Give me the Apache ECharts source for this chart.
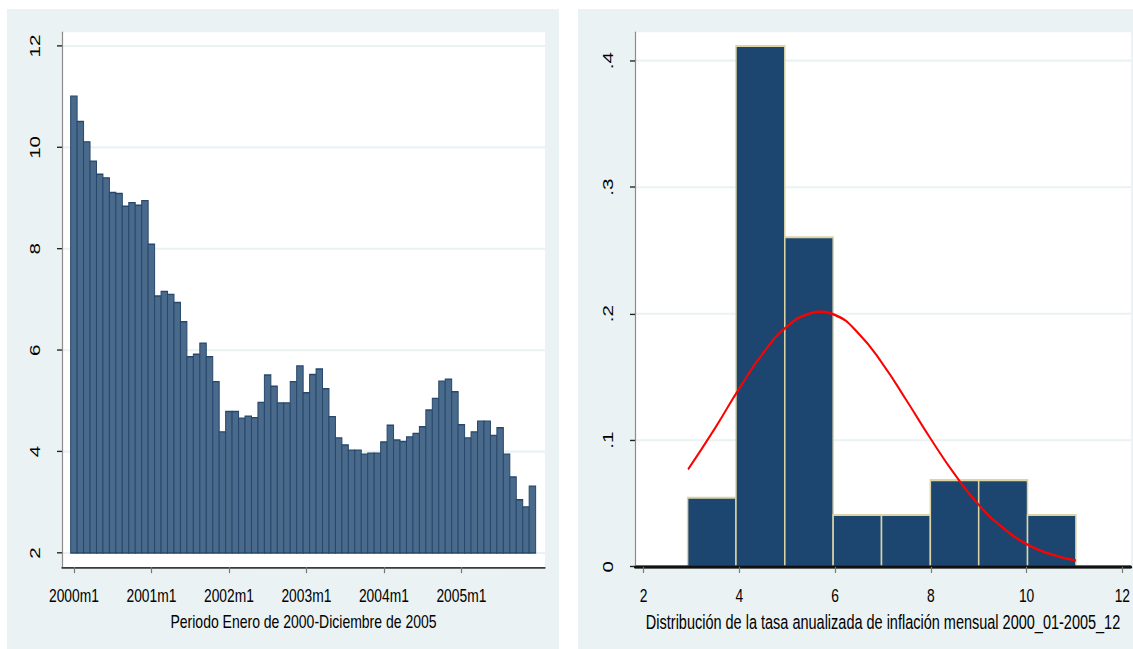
<!DOCTYPE html>
<html>
<head>
<meta charset="utf-8">
<script src="https://cdn.jsdelivr.net/npm/echarts@6/dist/echarts.min.js"></script>
<style>
  html, body { margin: 0; padding: 0; background: #ffffff; }
  #stage { position: relative; width: 1133px; height: 649px; overflow: hidden; background: #ffffff; }
  .panel { position: absolute; background: #eaf2f3; }
  #chart { position: absolute; left: 0; top: 0; width: 1133px; transform-origin: 0 0; }
</style>
</head>
<body>
<div id="stage">
  <div class="panel" style="left:7px;top:9px;width:552px;height:640px"></div>
  <div class="panel" style="left:578px;top:9px;width:555px;height:640px"></div>
  <div id="chart"></div>
</div>
<script>
// Monthly annualised inflation, January 2000 - December 2005
const months = [];
for (let y = 2000; y <= 2005; y++) for (let m = 1; m <= 12; m++) months.push(y + 'm' + m);

const inflation = [
  11.01, 10.51, 10.11, 9.73, 9.47, 9.40, 9.11, 9.09, 8.84, 8.91, 8.86, 8.95,
  8.09, 7.07, 7.16, 7.10, 6.94, 6.56, 5.87, 5.92, 6.14, 5.87, 5.38, 4.39,
  4.79, 4.79, 4.66, 4.70, 4.67, 4.97, 5.51, 5.29, 4.96, 4.96, 5.38, 5.69,
  5.16, 5.52, 5.63, 5.24, 4.69, 4.27, 4.13, 4.03, 4.03, 3.95, 3.97, 3.97,
  4.19, 4.52, 4.23, 4.20, 4.29, 4.36, 4.49, 4.82, 5.05, 5.39, 5.43, 5.18,
  4.53, 4.27, 4.39, 4.60, 4.60, 4.32, 4.47, 3.95, 3.50, 3.05, 2.91, 3.32
];
const leftYTicks = [2, 4, 6, 8, 10, 12];
const leftXTicks = months.map((m, i) => (m.endsWith('m1') ? i : -1)).filter(i => i >= 0);

// Histogram of the same rates (density scale) and the normal density curve
const binEdges = [2.92, 3.93, 4.95, 5.96, 6.97, 7.99, 9.00, 10.02, 11.03];
const binDensity = [0.0545, 0.4115, 0.2605, 0.041, 0.041, 0.0685, 0.0685, 0.041];
const curveX = [2.93, 3.5, 4.0, 4.5, 5.0, 5.5, 5.66, 6.0, 6.5, 7.0, 7.5, 8.0, 8.5, 9.0, 9.5, 10.0, 10.5, 11.03];
const curveY = [0.077, 0.110, 0.141, 0.169, 0.190, 0.2005, 0.2015, 0.199, 0.184, 0.160, 0.131, 0.101, 0.073, 0.049, 0.031, 0.018, 0.010, 0.005];
const rightXTicks = [2, 4, 6, 8, 10, 12];
const rightYTicks = [0, 0.1, 0.2, 0.3, 0.4];

// The graph is drawn in a short box and stretched vertically
const K = 1.37;
const H = 649 / K;
const sy = v => v / K;
const el = document.getElementById('chart');
el.style.height = H + 'px';
el.style.transform = 'scaleY(' + K + ')';

const FONT = "'Liberation Sans', Arial, sans-serif";
const BAR_BASE = 2;
const L = { xMin: -1.84, xMax: 72.95, yMin: 1.724, yMax: 12.27 };
const R = { xMin: 1.821, xMax: 12.183, yMin: 0, yMax: 0.4224 };

// Horizontal rule across a grid at the given values
function ruleSeries(idx, xMin, values, z, color, width) {
  return {
    type: 'custom', xAxisIndex: idx, yAxisIndex: idx, z: z, silent: true,
    data: values.map(v => [xMin, v]),
    encode: { x: 0, y: 1 },
    renderItem: (params, api) => {
      const cs = params.coordSys;
      const y = api.coord([api.value(0), api.value(1)])[1];
      return { type: 'line', shape: { x1: cs.x, y1: y, x2: cs.x + cs.width, y2: y },
               style: { stroke: color, lineWidth: width } };
    }
  };
}

const axisLabelY = (ticks, fmt) => ({
  customValues: ticks, rotate: 90, margin: 20, color: '#000',
  fontFamily: FONT, fontSize: 15, formatter: fmt
});
const axisLabelX = (ticks, fmt) => ({
  customValues: ticks, margin: 14, color: '#000',
  fontFamily: FONT, fontSize: 13.8, formatter: fmt
});

const option = {
  animation: false,
  backgroundColor: 'transparent',
  grid: [
    { left: 62, top: sy(32.3), width: 483, height: sy(567 - 32.3),
      show: true, backgroundColor: '#ffffff', borderWidth: 0 },
    { left: 635, top: sy(32.3), width: 498, height: sy(566.8 - 32.3),
      show: true, backgroundColor: '#ffffff', borderWidth: 0 }
  ],
  xAxis: [
    { type: 'value', gridIndex: 0, min: L.xMin, max: L.xMax, z: 10,
      axisLine: { show: true, onZero: false, lineStyle: { color: '#3a3a3a', width: 1.3 } },
      axisTick: { show: true, customValues: leftXTicks, length: 4.5, lineStyle: { color: '#777', width: 1.2 } },
      axisLabel: axisLabelX(leftXTicks, v => months[v]),
      splitLine: { show: false },
      name: 'Periodo Enero de 2000-Diciembre de 2005', nameLocation: 'middle', nameGap: 30,
      nameTextStyle: { color: '#000', fontFamily: FONT, fontSize: 14 } },
    { type: 'value', gridIndex: 1, min: R.xMin, max: R.xMax, z: 10,
      axisLine: { show: true, onZero: false, lineStyle: { color: '#111', width: 2 } },
      axisTick: { show: true, customValues: rightXTicks, length: 4.5, lineStyle: { color: '#777', width: 1.2 } },
      axisLabel: axisLabelX(rightXTicks, v => String(v)),
      splitLine: { show: false },
      name: 'Distribución de la tasa anualizada de inflación mensual 2000_01-2005_12',
      nameLocation: 'middle', nameGap: 29,
      nameTextStyle: { color: '#000', fontFamily: FONT, fontSize: 14.5 } }
  ],
  yAxis: [
    { type: 'value', gridIndex: 0, min: L.yMin, max: L.yMax, z: 10,
      axisLine: { show: true, onZero: false, lineStyle: { color: '#8c8c8c', width: 1.2 } },
      axisTick: { show: true, customValues: leftYTicks, length: 5, lineStyle: { color: '#222', width: 1 } },
      axisLabel: axisLabelY(leftYTicks, v => String(v)),
      splitLine: { show: false } },
    { type: 'value', gridIndex: 1, min: R.yMin, max: R.yMax, z: 10,
      axisLine: { show: true, onZero: false, lineStyle: { color: '#8c8c8c', width: 1.2 } },
      axisTick: { show: true, customValues: rightYTicks, length: 5, lineStyle: { color: '#222', width: 1 } },
      axisLabel: axisLabelY(rightYTicks, v => (v === 0 ? '0' : v.toFixed(1).replace(/^0/, ''))),
      splitLine: { show: false } }
  ],
  series: [
    ruleSeries(0, L.xMin, leftYTicks, 1, '#eaf2f3', 1.5),
    {
      type: 'custom', xAxisIndex: 0, yAxisIndex: 0, z: 2,
      data: inflation.map((v, i) => [i, v]),
      encode: { x: 0, y: 1 },
      renderItem: (params, api) => {
        const i = api.value(0), v = api.value(1);
        const p1 = api.coord([i - 0.5, v]);
        const p2 = api.coord([i + 0.5, BAR_BASE]);
        return { type: 'rect',
                 shape: { x: p1[0], y: p1[1], width: p2[0] - p1[0], height: p2[1] - p1[1] },
                 style: { fill: '#4a6a8b', stroke: '#26486c', lineWidth: 1 } };
      }
    },
    ruleSeries(1, R.xMin, rightYTicks.slice(1), 1, '#eaf2f3', 1.5),
    {
      type: 'custom', xAxisIndex: 1, yAxisIndex: 1, z: 2,
      data: binDensity.map((d, i) => [binEdges[i], binEdges[i + 1], d]),
      encode: { x: [0, 1], y: 2 },
      renderItem: (params, api) => {
        const p1 = api.coord([api.value(0), api.value(2)]);
        const p2 = api.coord([api.value(1), 0]);
        return { type: 'rect',
                 shape: { x: p1[0], y: p1[1], width: p2[0] - p1[0], height: p2[1] - p1[1] },
                 style: { fill: '#1c466f', stroke: '#dcd4a6', lineWidth: 1.5 } };
      }
    },
    {
      type: 'line', xAxisIndex: 1, yAxisIndex: 1, z: 3,
      data: curveX.map((x, i) => [x, curveY[i]]),
      smooth: true, symbol: 'none', silent: true,
      lineStyle: { color: '#ff0000', width: 1.8 }
    },
    // zero baseline of the histogram, kept above the bars
    ruleSeries(1, R.xMin, [0], 4, '#111', 2)
  ]
};

const chart = echarts.init(el, null, { renderer: 'svg', width: 1133, height: H });
chart.setOption(option);
</script>
</body>
</html>
